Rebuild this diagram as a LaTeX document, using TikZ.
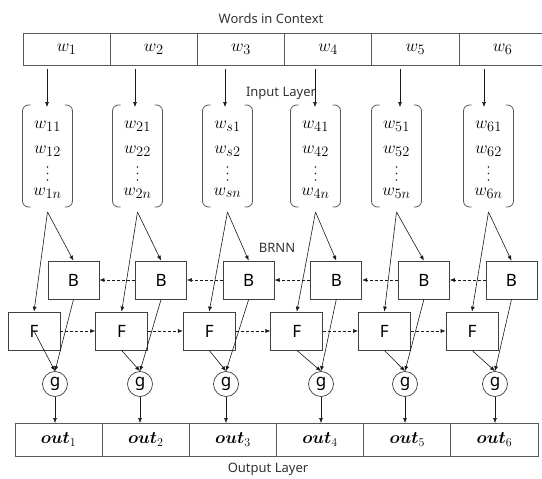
\documentclass[tikz,border=0pt]{standalone}
\usepackage{fontspec}
\usepackage{amsmath}
\usepackage{bm}
\newfontfamily\labfont{Noto Sans}
\usetikzlibrary{arrows.meta}
\begin{document}
\begin{tikzpicture}[x=1pt,y=-1pt,
  arr/.style={-{Latex[length=5pt,width=4pt]}, line width=0.6pt, draw=black!90},
  dasharr/.style={arr, dash pattern=on 3pt off 2pt},
  cell/.style={draw=black!65, line width=0.9pt, minimum width=87.2pt, minimum height=32pt, inner sep=0pt, outer sep=0pt, font=\fontsize{19}{22}\selectfont},
  ocell/.style={cell, minimum width=87.17pt, minimum height=33pt, font=\fontsize{18}{22}\selectfont},
  rnn/.style={draw=black!75, line width=0.7pt, minimum height=38pt, inner sep=0pt, font=\labfont\fontsize{17}{20}\selectfont},
  gnode/.style={circle, draw=black!75, line width=0.7pt, minimum size=25pt, inner sep=0pt, font=\labfont\fontsize{17}{20}\selectfont},
  wtxt/.style={anchor=base, inner sep=0pt, font=\fontsize{19}{22}\selectfont},
  vdot/.style={circle, fill=black!85, inner sep=0pt, minimum size=1.8pt},
  lab/.style={font=\labfont\fontsize{13}{15}\selectfont, text=black!80, inner sep=0pt},
  brk/.style={draw=black!65, line width=0.8pt, rounded corners=6pt}
]
\useasboundingbox (0,0) rectangle (542,479);

% labels
\node[lab] (lwords) at (271,19) {Words in Context};
\node[lab] (linput) at (281,93) {Input Layer};
\node[lab] (lbrnn) at (277,248) {BRNN};
\node[lab] (lout) at (268,469) {Output Layer};

\foreach \i/\ax/\bx/\sa/\sb/\sn/\gx in {1/47/47.5/11/12/1n/55, 2/135/137.5/21/22/2n/140, 3/225/227.5/s1/s2/sn/226, 4/315/315.5/41/42/4n/321, 5/400/396.5/51/52/5n/405, 6/484/488.5/61/62/6n/495}{
  % top cell
  \node[cell] (c\i) at ({66.6+87.2*(\i-1)},49) {$w_{\i}$};
  % output cell
  \node[ocell] (o\i) at ({15+43.58+87.17*(\i-1)},439.5) {$\bm{out}_{\i}$};
  % bracket
  \draw[brk] ({\bx-17},105) -- ({\bx-25},105) -- ({\bx-25},207) -- ({\bx-17},207);
  \draw[brk] ({\bx+17},105) -- ({\bx+25},105) -- ({\bx+25},207) -- ({\bx+17},207);
  \node[wtxt] (wa\i) at (\bx,128) {$w_{\sa}$};
  \node[wtxt] (wb\i) at (\bx,153) {$w_{\sb}$};
  \node[vdot] (da\i) at (\bx,167) {};
  \node[vdot] (db\i) at (\bx,173.5) {};
  \node[vdot] (dc\i) at (\bx,180) {};
  \node[wtxt] (wn\i) at (\bx,195) {$w_{\sn}$};
  \coordinate (s\i) at (\ax,69);
  \coordinate (t\i) at (\ax,107);
  \coordinate (bb\i) at (\bx,212);
  \draw[arr] (s\i) -- (t\i);
  % B and F
  \node[rnn, minimum width=51pt] (B\i) at ({73.5+87.6*(\i-1)},280) {B};
  \node[rnn, minimum width=52pt] (F\i) at ({34+87.6*(\i-1)},331) {F};
  \node[gnode] (g\i) at (\gx,384) {g};
  \draw[arr] (bb\i) -- (B\i.north);
  \draw[arr] (bb\i) -- (F\i.north);
  \draw[arr] (B\i.south) -- (g\i.north);
  \draw[arr] (g\i.south) -- (g\i.south |- o\i.north);
}
\draw[arr] (F1.center) -- (g1.north);
\foreach \i in {2,...,6}{
  \draw[arr] (F\i.south) -- (g\i.north);
}
\foreach \i/\j in {1/2,2/3,3/4,4/5,5/6}{
  \draw[dasharr] (B\j.west) -- (B\i.east);
  \draw[dasharr] (F\i.east) -- (F\j.west);
}
\end{tikzpicture}
\end{document}
